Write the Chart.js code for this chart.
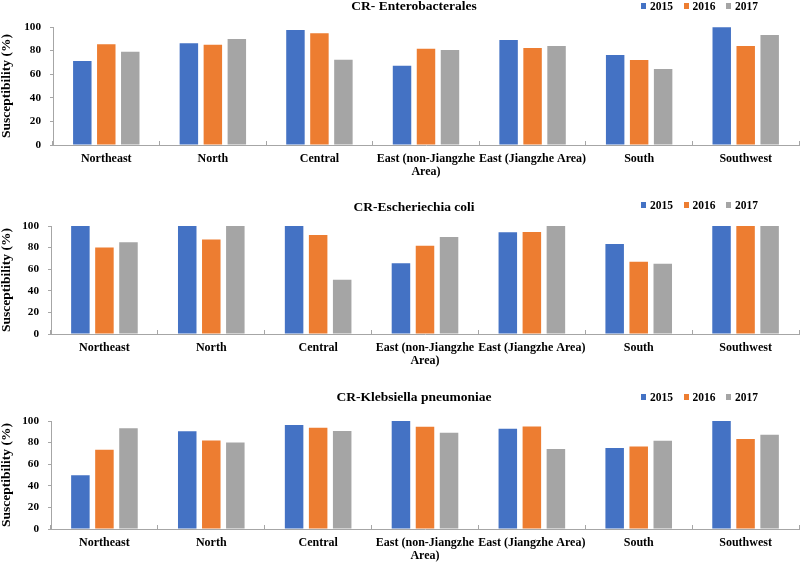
<!DOCTYPE html>
<html>
<head>
<meta charset="utf-8">
<script src="https://cdn.jsdelivr.net/npm/chart.js@4.4.0/dist/chart.umd.min.js"></script>
<style>
  body { margin: 0; background: #fff; }
  #wrap { position: relative; width: 800px; height: 563px; overflow: hidden; font-family: "Liberation Serif", "Times New Roman", serif; }
  .panel { position: absolute; left: 0; width: 800px; }
  .panel canvas { position: absolute; left: 0; top: 0; }
  .ttl { position: absolute; left: 314px; width: 200px; text-align: center; font-weight: bold; font-size: 13.5px; line-height: 13.5px; white-space: nowrap; color: #000; }
  .lgd { position: absolute; left: 641px; display: flex; align-items: center; height: 12px; font-weight: bold; font-size: 11.5px; line-height: 12px; color: #000; }
  .lgd .it { display: flex; align-items: center; margin-right: 10.5px; }
  .lgd .bx { display: inline-block; width: 5px; height: 6px; margin-right: 4px; }
</style>
</head>
<body>
<div id="wrap"></div>
<script>
const regions = ["Northeast", "North", "Central", ["East (non-Jiangzhe", "Area)"], "East (Jiangzhe Area)", "South", "Southwest"]
const years = ["2015", "2016", "2017"]

const entero2015 = [71.2, 86.2, 97.5, 67.2, 89.0, 76.3, 99.7]
const entero2016 = [85.3, 85.0, 94.6, 81.6, 82.2, 72.0, 83.9]
const entero2017 = [79.1, 89.8, 72.3, 80.5, 83.9, 64.4, 93.2]

const ecoli2015 = [100, 100, 100, 65.4, 94.1, 83.3, 100]
const ecoli2016 = [80.2, 87.6, 91.7, 81.8, 94.4, 67.0, 100]
const ecoli2017 = [84.9, 100, 50.3, 89.8, 100, 65.1, 100]

const kpn2015 = [49.8, 90.4, 96.3, 100, 92.9, 74.9, 100]
const kpn2016 = [73.4, 82.0, 93.8, 94.7, 95.0, 76.5, 83.3]
const kpn2017 = [93.2, 80.2, 90.7, 89.2, 74.0, 81.7, 87.3]

const yTicks = [0, 20, 40, 60, 80, 100]

const colors = ["#4472C4", "#ED7D31", "#A5A5A5"]
const axisColor = "#a6a6a6"
const fontBold = (size, lh) => ({ family: "'Liberation Serif', 'Times New Roman', serif", weight: "bold", size: size, lineHeight: lh || 1.1 })

const wrap = document.getElementById("wrap")

function criarPainel(titulo, series, top, height, padTop, xHeight, leftW, ttlTop, lgdTop){
    const panel = document.createElement("div")
    panel.className = "panel"
    panel.style.top = top + "px"
    panel.style.height = height + "px"
    wrap.appendChild(panel)

    const canvas = document.createElement("canvas")
    canvas.width = 800
    canvas.height = height
    canvas.style.width = "800px"
    canvas.style.height = height + "px"
    panel.appendChild(canvas)

    const chart = new Chart(canvas, {
        type: "bar",
        data: {
            labels: regions,
            datasets: series.map((s, i) => ({
                label: years[i],
                data: s,
                backgroundColor: colors[i],
                categoryPercentage: 0.675,
                barPercentage: 0.77
            }))
        },
        options: {
            responsive: false,
            animation: false,
            devicePixelRatio: 1,
            layout: { padding: { top: padTop, right: 1, left: 0, bottom: 0 } },
            plugins: {
                legend: { display: false },
                title: { display: false },
                tooltip: { enabled: false }
            },
            scales: {
                x: {
                    grid: { display: true, drawOnChartArea: false, drawTicks: true, tickLength: -4, color: axisColor, offset: true },
                    border: { color: axisColor, width: 1 },
                    ticks: { font: fontBold(12), color: "#000", padding: 11, maxRotation: 0, minRotation: 0, autoSkip: false },
                    afterFit: (scale) => { scale.height = xHeight }
                },
                y: {
                    min: 0,
                    max: 100,
                    afterBuildTicks: (scale) => { scale.ticks = yTicks.map(v => ({ value: v })) },
                    grid: { display: true, drawOnChartArea: false, drawTicks: true, tickLength: 3, color: axisColor },
                    border: { color: axisColor, width: 1 },
                    ticks: { font: fontBold(11.2), color: "#000", padding: 9 },
                    title: { display: true, text: "Susceptibility (%)", font: fontBold(13.5, 1.0), color: "#000", padding: { top: 0, bottom: 0 } },
                    afterFit: (scale) => { scale.width = leftW }
                }
            }
        }
    })

    const ttl = document.createElement("div")
    ttl.className = "ttl"
    ttl.style.top = ttlTop + "px"
    ttl.textContent = titulo
    panel.appendChild(ttl)

    // legenda em html a partir dos datasets
    const lgd = document.createElement("div")
    lgd.className = "lgd"
    lgd.style.top = lgdTop + "px"
    chart.data.datasets.forEach(ds => {
        const it = document.createElement("span")
        it.className = "it"
        const bx = document.createElement("span")
        bx.className = "bx"
        bx.style.background = ds.backgroundColor
        it.appendChild(bx)
        it.appendChild(document.createTextNode(ds.label))
        lgd.appendChild(it)
    })
    panel.appendChild(lgd)
    return chart
}

criarPainel("CR- Enterobacterales", [entero2015, entero2016, entero2017], 0, 185, 27, 40, 53, -1.3, 0.3)
criarPainel("CR-Escheriechia coli", [ecoli2015, ecoli2016, ecoli2017], 185, 190, 41, 41, 51, 14.9, 14)
criarPainel("CR-Klebsiella pneumoniae", [kpn2015, kpn2016, kpn2017], 375, 188, 46, 34, 51, 15, 15.7)
</script>
</body>
</html>
